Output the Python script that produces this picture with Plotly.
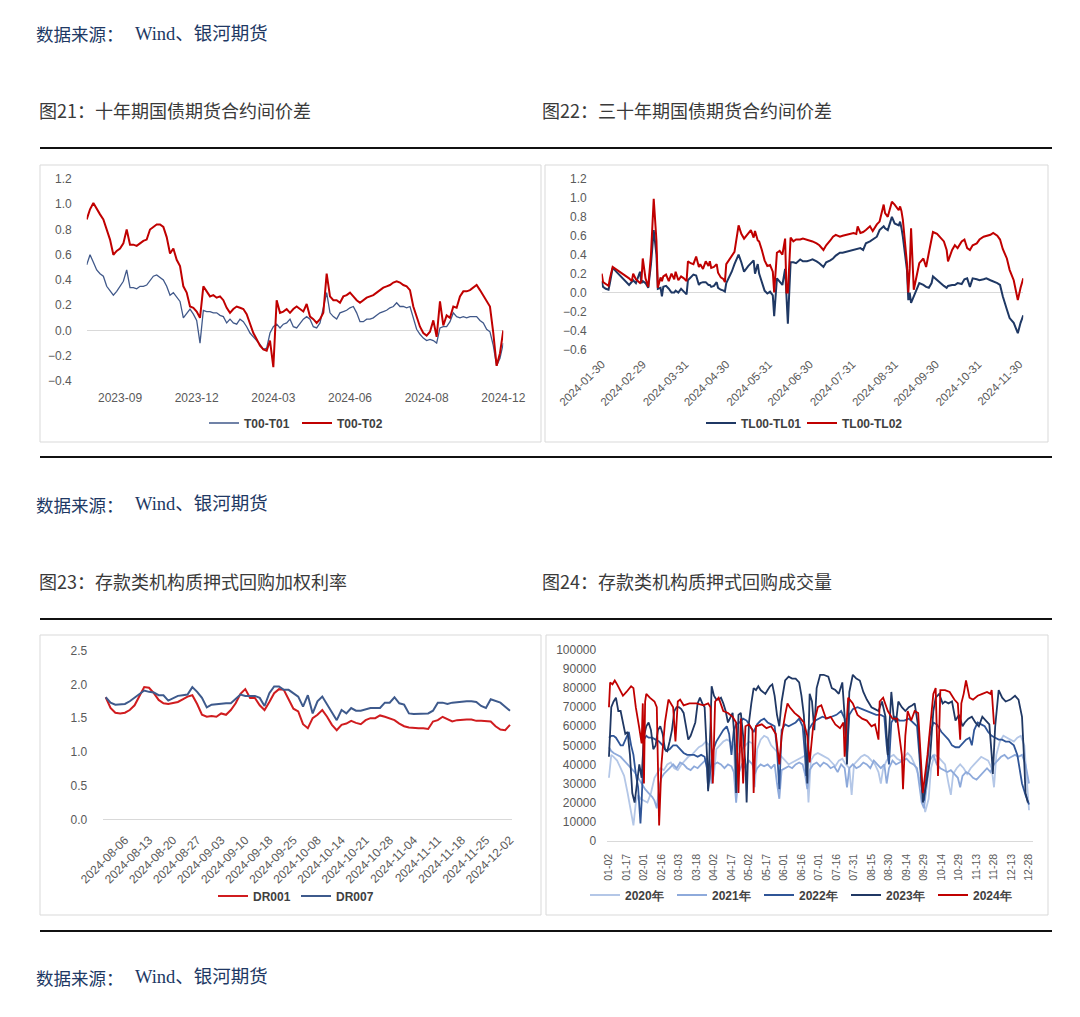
import plotly.graph_objects as go

W, H = 1080, 1017
def fx(p): return p / W
def fy(p): return 1 - p / H

RED = "#c00000"
RED3 = "#d01c1f"
BLUE1 = "#41598a"
NAVY = "#1f3864"
GRID = "#d9d9d9"
TICK = "#595959"
LEG = "#404040"
FONT = "Liberation Sans, Arial, sans-serif"
CJK = "Noto Sans CJK SC, sans-serif"

# ---------------- Panel 1: T00-T01 / T00-T02 ----------------
t01 = [0.52,0.60,0.54,0.48,0.45,0.43,0.35,0.31,0.28,0.31,
       0.35,0.39,0.48,0.34,0.34,0.33,0.35,0.35,0.36,0.40,
       0.43,0.44,0.42,0.40,0.35,0.28,0.30,0.26,0.23,0.10,
       0.14,0.17,0.13,0.08,-0.10,0.16,0.15,0.15,0.14,0.14,
       0.12,0.11,0.06,0.09,0.06,0.05,0.09,0.07,0.03,-0.02,
       -0.05,-0.08,-0.11,-0.15,-0.14,-0.02,0.03,0.05,0.02,0.05,
       0.06,0.09,0.03,0.02,0.06,0.09,0.11,0.09,0.03,0.02,
       0.06,0.17,0.30,0.14,0.11,0.09,0.14,0.15,0.16,0.18,
       0.19,0.14,0.07,0.07,0.09,0.09,0.10,0.12,0.14,0.15,
       0.16,0.18,0.19,0.22,0.19,0.19,0.18,0.19,0.09,0.01,
       -0.03,-0.06,-0.08,-0.07,-0.08,-0.10,0.02,0.03,0.03,0.07,
       0.14,0.11,0.10,0.11,0.10,0.11,0.11,0.11,0.08,0.06,
       0.01,-0.01,-0.12,-0.28,-0.22,-0.10]
t02 = [0.88,0.96,1.01,0.96,0.92,0.88,0.80,0.72,0.60,0.63,
       0.65,0.69,0.80,0.68,0.68,0.67,0.69,0.71,0.72,0.80,
       0.82,0.84,0.84,0.82,0.74,0.61,0.65,0.56,0.51,0.35,
       0.30,0.19,0.18,0.15,0.10,0.35,0.31,0.27,0.28,0.26,
       0.27,0.24,0.18,0.14,0.17,0.19,0.18,0.17,0.13,0.06,
       -0.02,-0.07,-0.12,-0.15,-0.16,-0.08,-0.29,0.24,0.14,0.15,
       0.17,0.14,0.17,0.19,0.17,0.15,0.21,0.11,0.09,0.06,
       0.09,0.14,0.45,0.27,0.24,0.24,0.22,0.27,0.28,0.30,
       0.27,0.24,0.22,0.24,0.26,0.27,0.28,0.30,0.32,0.34,
       0.35,0.36,0.38,0.39,0.38,0.36,0.35,0.32,0.19,0.11,
       0.03,-0.02,-0.04,-0.01,0.08,-0.05,0.23,0.04,0.12,0.10,
       0.19,0.18,0.27,0.31,0.31,0.32,0.34,0.36,0.32,0.28,
       0.24,0.19,-0.02,-0.28,-0.18,0.00]
p1_tick_pos = [10, 33, 56, 79, 102, 125]
p1_tick_txt = ["2023-09", "2023-12", "2024-03", "2024-06", "2024-08", "2024-12"]
p1_yticks = [-0.4, -0.2, 0.0, 0.2, 0.4, 0.6, 0.8, 1.0, 1.2]

# ---------------- Panel 2: TL00-TL01 / TL00-TL02 ----------------
tl_dates = ["01-30","01-31","02-02","02-04","02-05","02-07","02-19","02-21","02-22","02-24",
            "02-27","02-28","02-29","03-02","03-04","03-06","03-08","03-10","03-11","03-13",
            "03-14","03-15","03-17","03-19","03-21","03-23","03-24","03-26","03-28","03-30",
            "04-01","04-02","04-04","04-06","04-08","04-10","04-11","04-13","04-15","04-17",
            "04-18","04-19","04-21","04-23","04-24","04-26","04-28","04-29","04-30","05-04",
            "05-06","05-09","05-11","05-13","05-16","05-18","05-20","05-21","05-23","05-24",
            "05-26","05-28","05-30","06-01","06-03","06-04","06-06","06-08","06-10","06-12",
            "06-13","06-14","06-16","06-18","06-20","06-23","06-25","06-28","06-30","07-02",
            "07-05","07-07","07-10","07-12","07-15","07-17","07-19","07-22","07-24","07-27",
            "07-29","08-01","08-03","08-04","08-06","08-08","08-10","08-13","08-15","08-18",
            "08-20","08-23","08-24","08-26","08-29","08-31","09-03","09-04","09-05","09-06",
            "09-09","09-10","09-11","09-12","09-14","09-15","09-16","09-17","09-18","09-21",
            "09-23","09-25","09-27","09-28","10-01","10-03","10-06","10-08","10-09","10-12",
            "10-14","10-16","10-19","10-21","10-23","10-25","10-27","10-30","11-01","11-04",
            "11-06","11-09","11-11","11-14","11-16","11-18","11-21","11-23","11-26","11-27",
            "11-29","12-01","12-03"]
tl01 = [0.12,0.06,0.04,0.03,0.10,0.26,0.08,0.12,0.13,0.10,
        0.22,0.10,0.12,0.10,0.05,0.30,0.66,0.40,0.04,0.05,
        -0.04,0.06,0.07,0.04,0.00,0.00,0.02,0.00,0.04,0.01,
        -0.02,0.13,0.16,0.19,0.18,0.08,0.10,0.11,0.11,0.08,
        0.08,0.06,0.07,0.11,0.05,0.03,0.02,0.01,0.10,0.22,
        0.30,0.40,0.32,0.22,0.28,0.31,0.34,0.20,0.30,0.20,
        0.10,0.02,-0.01,0.01,-0.03,-0.25,0.15,0.12,0.08,0.25,
        0.02,-0.33,0.32,0.32,0.31,0.35,0.33,0.33,0.34,0.35,
        0.33,0.31,0.27,0.32,0.34,0.36,0.39,0.42,0.42,0.43,
        0.44,0.45,0.46,0.46,0.47,0.45,0.52,0.54,0.56,0.59,
        0.66,0.70,0.68,0.66,0.80,0.73,0.71,0.75,0.68,0.59,
        0.24,-0.08,0.00,-0.11,-0.04,0.00,0.03,0.06,0.10,0.08,
        0.06,0.05,0.10,0.17,0.13,0.10,0.07,0.05,0.07,0.08,
        0.08,0.10,0.09,0.14,0.15,0.06,0.15,0.14,0.13,0.14,
        0.15,0.13,0.12,0.10,0.08,-0.04,-0.18,-0.27,-0.32,-0.36,
        -0.43,-0.32,-0.24]
tl02 = [0.20,0.11,0.09,0.07,0.15,0.27,0.15,0.12,0.20,0.14,
        0.10,0.12,0.36,0.15,0.06,0.40,0.99,0.55,0.05,0.16,
        0.12,0.17,0.19,0.12,0.20,0.14,0.22,0.13,0.17,0.15,
        0.12,0.33,0.31,0.30,0.38,0.27,0.30,0.25,0.33,0.28,
        0.33,0.26,0.27,0.30,0.21,0.16,0.14,0.11,0.30,0.38,
        0.43,0.71,0.62,0.57,0.62,0.66,0.58,0.65,0.55,0.54,
        0.45,0.34,0.28,0.29,0.22,0.00,0.42,0.44,0.40,0.57,
        0.00,0.00,0.58,0.54,0.56,0.56,0.57,0.56,0.55,0.54,
        0.52,0.50,0.45,0.50,0.55,0.59,0.61,0.59,0.60,0.61,
        0.62,0.63,0.62,0.70,0.63,0.64,0.66,0.70,0.65,0.72,
        0.75,0.93,0.84,0.80,0.96,0.93,0.87,0.91,0.86,0.77,
        0.31,0.00,0.25,0.68,0.03,0.10,0.18,0.24,0.31,0.36,
        0.27,0.42,0.59,0.64,0.62,0.59,0.54,0.45,0.33,0.45,
        0.50,0.47,0.54,0.56,0.47,0.45,0.50,0.52,0.56,0.59,
        0.60,0.61,0.63,0.60,0.56,0.46,0.36,0.24,0.13,0.06,
        -0.08,0.05,0.15]
p2_ticks = ["2024-01-30","2024-02-29","2024-03-31","2024-04-30","2024-05-31","2024-06-30",
            "2024-07-31","2024-08-31","2024-09-30","2024-10-31","2024-11-30"]
p2_yticks = [-0.6, -0.4, -0.2, 0.0, 0.2, 0.4, 0.6, 0.8, 1.0, 1.2]

# ---------------- Panel 3: DR001 / DR007 ----------------
dr_days = ["07-31","08-01","08-02","08-05","08-06","08-07","08-08","08-09","08-12","08-13",
           "08-14","08-15","08-16","08-19","08-20","08-21","08-22","08-23","08-26","08-27",
           "08-28","08-29","08-30","09-02","09-03","09-04","09-05","09-06","09-09","09-10",
           "09-11","09-12","09-13","09-14","09-18","09-19","09-20","09-23","09-24","09-25",
           "09-26","09-27","09-29","09-30","10-08","10-09","10-10","10-11","10-12","10-14",
           "10-15","10-16","10-17","10-18","10-21","10-22","10-23","10-24","10-25","10-28",
           "10-29","10-30","10-31","11-01","11-04","11-05","11-06","11-07","11-08","11-11",
           "11-12","11-13","11-14","11-15","11-18","11-19","11-20","11-21","11-22","11-25",
           "11-26","11-27","11-28","11-29","12-02"]
dr001 = [1.81,1.65,1.58,1.57,1.58,1.62,1.69,1.82,1.96,1.95,
         1.87,1.77,1.72,1.71,1.72,1.74,1.78,1.82,1.84,1.71,
         1.55,1.52,1.53,1.52,1.57,1.55,1.62,1.72,1.86,1.93,
         1.80,1.80,1.69,1.62,1.74,1.87,1.93,1.92,1.78,1.64,
         1.60,1.41,1.35,1.50,1.55,1.62,1.52,1.40,1.32,1.40,
         1.42,1.46,1.43,1.41,1.47,1.50,1.50,1.54,1.52,1.50,
         1.47,1.42,1.38,1.36,1.35,1.35,1.35,1.34,1.45,1.47,
         1.52,1.49,1.45,1.47,1.48,1.48,1.48,1.46,1.46,1.46,
         1.45,1.38,1.33,1.32,1.40]
dr007 = [1.81,1.73,1.70,1.70,1.71,1.75,1.80,1.86,1.91,1.89,
         1.88,1.84,1.84,1.76,1.79,1.83,1.84,1.85,1.96,1.89,
         1.80,1.66,1.70,1.71,1.72,1.72,1.72,1.79,1.85,1.83,
         1.83,1.83,1.80,1.68,1.87,1.97,1.97,1.92,1.92,1.87,
         1.82,1.67,1.84,1.57,1.75,1.82,1.71,1.58,1.47,1.62,
         1.57,1.65,1.61,1.61,1.63,1.65,1.65,1.65,1.73,1.73,
         1.81,1.72,1.70,1.57,1.56,1.56,1.56,1.57,1.61,1.73,
         1.73,1.71,1.73,1.74,1.74,1.75,1.75,1.74,1.68,1.65,
         1.78,1.76,1.73,1.67,1.61]
p3_ticks = ["08-06","08-13","08-20","08-27","09-03","09-10","09-18","09-25","10-08",
            "10-14","10-21","10-28","11-04","11-11","11-18","11-25","12-02"]
p3_yticks = [0.0, 0.5, 1.0, 1.5, 2.0, 2.5]

# ---------------- Panel 4: volume by year (day-of-year, thousand) ----------------
v2020 = [(1,33),(3,45),(5,44),(8,42),(11,38),(14,34),(17,25),(20,15),(22,8),(24,20),(26,24),(28,22),
         (31,21),(34,20),(37,25),(40,33),(42,35),(45,38),(48,37),(51,40),(54,41),(57,38),(60,37),
         (63,40),(66,42),(69,44),(72,45),(75,47),(78,49),(81,50),(84,52),(87,50),(89,30),(91,35),
         (93,48),(96,50),(99,52),(102,53),(105,52),(108,50),(110,22),(112,45),(115,48),(118,50),
         (121,52),(124,51),(126,28),(128,48),(131,53),(134,55),(137,54),(140,50),(143,48),(146,46),
         (149,44),(152,42),(155,40),(158,41),(161,42),(164,43),(167,44),(170,45),(172,20),(174,42),
         (177,45),(180,46),(183,45),(186,44),(189,43),(192,41),(195,39),(198,42),(201,43),(204,40),
         (207,38),(209,24),(211,40),(214,42),(217,44),(220,45),(223,44),(226,42),(229,40),(232,36),
         (234,30),(236,38),(239,42),(242,44),(245,45),(248,43),(251,42),(254,44),(257,46),(260,44),
         (263,40),(266,35),(269,28),(272,15),(275,22),(277,38),(280,45),(283,44),(286,42),(289,40),
         (292,30),(294,24),(296,35),(299,38),(302,40),(305,38),(308,35),(311,38),(314,40),(317,42),
         (320,44),(323,43),(326,42),(329,38),(331,28),(333,45),(336,52),(339,55),(342,54),(345,53),
         (348,52),(351,54),(354,55),(357,50),(359,35),(361,16)]
v2021 = [(1,49),(3,47),(5,46),(8,45),(11,44),(14,42),(17,40),(20,38),(23,36),(26,33),(29,30),
         (32,27),(35,25),(38,23),(40,21),(42,17),(44,28),(46,33),(48,35),(50,36),(53,38),(56,40),
         (59,38),(62,41),(65,40),(68,38),(71,37),(74,39),(77,38),(80,40),(83,42),(85,43),(87,38),
         (89,30),(91,40),(94,41),(97,40),(100,38),(103,40),(106,39),(108,36),(110,20),(112,35),
         (115,40),(118,38),(121,42),(124,40),(126,35),(128,38),(131,40),(134,39),(137,40),(140,38),
         (143,40),(145,30),(147,22),(149,37),(152,38),(155,39),(158,38),(161,40),(164,41),(167,40),
         (169,35),(171,27),(173,37),(176,40),(179,41),(182,39),(185,41),(188,40),(191,38),(194,39),
         (197,36),(200,40),(203,38),(205,28),(207,38),(210,40),(213,38),(216,39),(219,41),(222,40),
         (225,38),(228,42),(231,40),(234,38),(237,40),(239,30),(241,38),(244,42),(247,40),(250,41),
         (253,42),(256,43),(259,41),(262,40),(265,38),(267,30),(269,20),(271,17),(273,28),(276,42),
         (279,45),(282,40),(285,38),(288,37),(291,36),(294,37),(297,35),(300,33),(302,28),(304,34),
         (307,36),(310,35),(313,33),(316,32),(319,34),(322,36),(325,38),(328,36),(331,40),(334,42),
         (337,44),(340,45),(343,43),(346,44),(349,45),(352,44),(355,45),(358,40),(361,30)]
v2022 = [(1,54),(3,55),(5,55),(7,54),(9,52),(11,50),(13,50),(15,53),(17,56),(18,57),(20,50),
         (22,45),(24,35),(26,28),(28,9),(29,20),(31,53),(33,55),(35,54),(38,54),(41,53),(44,52),
         (47,50),(50,47),(53,48),(56,50),(59,50),(62,48),(65,46),(68,45),(71,45),(74,45),(77,44),
         (80,45),(83,44),(85,38),(86,27),(88,38),(90,47),(93,52),(96,55),(99,58),(102,60),(104,56),
         (106,45),(108,58),(110,61),(113,62),(116,64),(119,63),(122,60),(125,57),(128,61),(131,63),
         (134,64),(137,62),(140,61),(143,60),(145,48),(147,27),(149,58),(152,61),(155,60),(158,61),
         (161,62),(164,64),(167,60),(169,45),(170,34),(172,58),(175,61),(178,63),(181,64),(184,65),
         (188,64),(192,65),(196,66),(200,68),(203,64),(205,45),(207,66),(210,69),(214,70),(218,69),
         (222,68),(226,67),(230,66),(234,66),(237,65),(239,50),(241,40),(243,62),(246,65),(250,63),
         (254,63),(258,64),(262,62),(265,60),(267,45),(269,28),(271,21),(273,35),(276,55),(279,62),
         (282,61),(286,57),(289,55),(292,53),(295,50),(298,49),(301,49),(304,51),(307,53),(310,54),
         (312,50),(314,58),(317,62),(320,61),(323,60),(326,57),(329,55),(332,54),(335,53),(338,53),
         (341,52),(344,52),(348,50),(351,45),(353,38),(355,30),(358,24),(361,19)]
v2023 = [(1,44),(3,70),(5,73),(7,75),(9,68),(11,68),(13,62),(15,56),(17,57),(19,45),(21,25),
         (23,20),(25,30),(27,40),(29,33),(31,55),(33,60),(35,62),(37,58),(39,48),(41,50),(43,58),
         (45,60),(47,56),(49,48),(51,47),(53,52),(55,58),(57,68),(59,70),(61,70),(63,69),(65,67),
         (67,60),(69,53),(71,55),(73,58),(75,62),(77,72),(79,75),(81,72),(83,70),(85,45),(86,26),
         (88,60),(89,81),(91,76),(93,74),(95,74),(97,75),(99,72),(101,68),(103,62),(105,65),
         (107,67),(109,50),(110,25),(112,66),(114,67),(116,55),(118,40),(119,20),(121,62),(123,72),
         (125,80),(127,79),(129,81),(131,79),(133,78),(135,77),(137,79),(139,81),(141,82),(143,76),
         (145,66),(147,60),(149,73),(152,84),(155,86),(158,85),(161,85),(164,83),(166,76),(168,66),
         (170,45),(171,30),(173,77),(175,73),(177,58),(179,80),(182,87),(185,87),(189,86),(192,80),
         (195,79),(198,77),(201,83),(203,65),(205,40),(207,78),(210,87),(213,85),(216,84),(219,78),
         (222,74),(226,70),(229,69),(232,68),(235,73),(238,65),(240,45),(243,78),(245,65),(247,62),
         (249,73),(252,70),(255,68),(258,70),(261,71),(263,72),(266,60),(268,40),(270,20),(273,30),
         (276,42),(279,68),(281,75),(284,77),(287,72),(289,73),(292,72),(295,73),(298,63),(301,66),
         (304,60),(306,62),(309,64),(312,65),(315,62),(318,60),(321,65),(324,63),(327,61),(329,45),
         (330,35),(332,60),(335,79),(338,75),(341,73),(345,74),(349,76),(352,74),(355,65),(357,40),
         (358,25),(360,20)]
v2024 = [(1,70),(2,83),(4,82),(6,84),(8,82),(13,76),(16,78),(20,81),(22,80),(24,70),(27,59),
         (29,51),(30,72),(31,30),(32,73),(33,77),(36,75),(40,73),(42,70),(44,8),(46,40),(49,62),
         (52,74),(56,70),(58,52),(60,73),(62,74),(65,71),(70,72),(76,72),(82,71),(86,72),(88,70),
         (90,30),(92,73),(95,75),(99,68),(103,67),(107,65),(110,62),(112,25),(114,64),(116,30),
         (118,60),(121,61),(124,58),(125,25),(127,60),(132,61),(136,59),(140,60),(144,56),(147,40),
         (149,55),(152,66),(154,72),(156,70),(160,67),(164,65),(168,62),(171,55),(173,41),(176,60),
         (180,70),(183,71),(187,64),(191,65),(195,61),(199,59),(202,62),(203,44),(206,75),(210,72),
         (214,66),(218,64),(222,63),(226,60),(229,61),(232,53),(233,73),(236,75),(240,68),(244,64),
         (248,64),(252,45),(253,27),(255,55),(257,68),(260,63),(263,68),(266,67),(268,45),(270,25),
         (274,45),(279,77),(281,80),(283,34),(285,79),(289,79),(293,78),(297,74),(300,72),(302,53),
         (303,72),(305,77),(307,84),(310,75),(313,74),(317,76),(321,77),(325,78),(328,77),(329,79),
         (331,61)]
p4_series = [("2020年", v2020, "#b4c7e7"), ("2021年", v2021, "#8eaadb"),
             ("2022年", v2022, "#2f5597"), ("2023年", v2023, "#203864"),
             ("2024年", v2024, "#c00000")]
p4_tick_txt = ["01-02","01-17","02-01","02-16","03-03","03-18","04-02","04-17","05-02",
               "05-17","06-01","06-16","07-01","07-16","07-31","08-15","08-30","09-14",
               "09-29","10-14","10-29","11-13","11-28","12-13","12-28"]
p4_tick_day = [1 + 15 * i for i in range(len(p4_tick_txt))]
p4_yticks = [0, 10000, 20000, 30000, 40000, 50000, 60000, 70000, 80000, 90000, 100000]

fig = go.Figure()

# Panel 1 traces
x1 = list(range(len(t01)))
fig.add_trace(go.Scatter(x=x1, y=t01, name="T00-T01", mode="lines",
                         line=dict(color=BLUE1, width=1.3), xaxis="x", yaxis="y", legend="legend"))
fig.add_trace(go.Scatter(x=x1, y=t02, name="T00-T02", mode="lines",
                         line=dict(color=RED, width=2), xaxis="x", yaxis="y", legend="legend"))
# Panel 2 traces
d2 = ["2024-" + d for d in tl_dates]
fig.add_trace(go.Scatter(x=d2, y=tl01, name="TL00-TL01", mode="lines",
                         line=dict(color=NAVY, width=2), xaxis="x2", yaxis="y2", legend="legend2"))
fig.add_trace(go.Scatter(x=d2, y=tl02, name="TL00-TL02", mode="lines",
                         line=dict(color=RED, width=2), xaxis="x2", yaxis="y2", legend="legend2"))
# Panel 3 traces
d3 = ["2024-" + d for d in dr_days]
fig.add_trace(go.Scatter(x=d3, y=dr001, name="DR001", mode="lines",
                         line=dict(color=RED3, width=2), xaxis="x3", yaxis="y3", legend="legend3"))
fig.add_trace(go.Scatter(x=d3, y=dr007, name="DR007", mode="lines",
                         line=dict(color="#3e5a8c", width=2), xaxis="x3", yaxis="y3", legend="legend3"))
# Panel 4 traces
for name, pts, col in p4_series:
    fig.add_trace(go.Scatter(x=[p[0] for p in pts], y=[p[1] * 1000 for p in pts], name=name,
                             mode="lines", line=dict(color=col, width=1.8),
                             xaxis="x4", yaxis="y4", legend="legend4"))

def tf(size):
    return dict(family=FONT, size=size, color=TICK)

common = dict(showgrid=False, ticks="", zeroline=False, showline=False)

fig.update_layout(
    width=W, height=H, margin=dict(l=0, r=0, t=0, b=0, autoexpand=False),
    paper_bgcolor="white", plot_bgcolor="white", hovermode=False,
    xaxis=dict(domain=[fx(86.7), fx(503.3)], anchor="y", range=[0, len(t01) - 1],
               tickmode="array", tickvals=p1_tick_pos, ticktext=p1_tick_txt,
               tickfont=tf(12), ticklabelstandoff=8, **common),
    yaxis=dict(domain=[fy(381), fy(179)], anchor="x", range=[-0.4, 1.2],
               tickmode="array", tickvals=p1_yticks, tickformat=".1f",
               tickfont=tf(12), ticklabelstandoff=14, showgrid=False, ticks="",
               zeroline=True, zerolinecolor=GRID, zerolinewidth=1),
    xaxis2=dict(domain=[fx(601.7), fx(1023.3)], anchor="y2", type="date",
                range=["2024-01-30", "2024-12-03"], tickmode="array", tickvals=p2_ticks,
                tickformat="%Y-%m-%d", tickangle=-45, tickfont=tf(11.5), ticklabelstandoff=5,
                **common),
    yaxis2=dict(domain=[fy(349.3), fy(179)], anchor="x2", range=[-0.6, 1.2],
                tickmode="array", tickvals=p2_yticks, tickformat=".1f",
                tickfont=tf(12), ticklabelstandoff=14, showgrid=False, ticks="",
                zeroline=True, zerolinecolor=GRID, zerolinewidth=1),
    xaxis3=dict(domain=[fx(103.3), fx(512.4)], anchor="y3", type="category",
                categoryorder="array", categoryarray=d3, range=[-0.5, len(d3) - 0.5],
                tickmode="array", tickvals=["2024-" + d for d in p3_ticks],
                ticktext=["2024-" + d for d in p3_ticks], tickangle=-45, tickfont=tf(12),
                ticklabelstandoff=8, showgrid=False, ticks="", zeroline=False,
                showline=True, linecolor=GRID, linewidth=1),
    yaxis3=dict(domain=[fy(819.3), fy(650.7)], anchor="x3", range=[0, 2.5],
                tickmode="array", tickvals=p3_yticks, tickformat=".1f",
                tickfont=tf(12), ticklabelstandoff=15, **common),
    xaxis4=dict(domain=[fx(607.2), fx(1033.1)], anchor="y4", range=[-0.5, 364.5],
                tickmode="array", tickvals=p4_tick_day, ticktext=p4_tick_txt, tickangle=-90,
                tickfont=tf(10.5), ticklabelstandoff=8, showgrid=False, ticks="",
                zeroline=False, showline=True, linecolor=GRID, linewidth=1),
    yaxis4=dict(domain=[fy(840.7), fy(650)], anchor="x4", range=[0, 100000],
                tickmode="array", tickvals=p4_yticks, tickformat="d",
                tickfont=tf(12), ticklabelstandoff=10, **common),
)

legfont = dict(family=FONT, size=12, color=LEG, weight="bold")
def leg(x, y, ew):
    return dict(orientation="h", x=fx(x), y=fy(y), xanchor="left", yanchor="middle",
                font=legfont, bgcolor="rgba(0,0,0,0)", entrywidth=ew,
                entrywidthmode="pixels", itemwidth=30, tracegroupgap=0)

fig.update_layout(legend=leg(204, 423, 48), legend2=leg(701, 423, 56),
                  legend3=leg(213, 896, 38), legend4=leg(585, 895, 42))

shapes = []
for y in (148, 457, 619, 931):
    shapes.append(dict(type="line", xref="paper", yref="paper", x0=fx(40), x1=fx(1052),
                       y0=fy(y), y1=fy(y), line=dict(color="#111111", width=2)))
for (x0, y0, x1, y1) in ((40, 165, 541, 442), (545, 165, 1048, 442),
                         (40, 635, 541, 915), (546, 635, 1048, 915)):
    shapes.append(dict(type="rect", xref="paper", yref="paper", x0=fx(x0), x1=fx(x1),
                       y0=fy(y1), y1=fy(y0), line=dict(color=GRID, width=1)))
fig.update_layout(shapes=shapes)

anns = []
def text(x, y, s, color, size=17.5, family=CJK):
    anns.append(dict(x=fx(x), y=fy(y), xref="paper", yref="paper", text=s, showarrow=False,
                     xanchor="left", yanchor="middle", font=dict(family=family, size=size, color=color)))

SRC = "#203864"
for y in (34, 504, 977):
    text(34, y, "数据来源：", SRC)
    text(133, y, "Wind、银河期货", SRC, size=18.5, family="Liberation Serif, Noto Sans CJK SC, serif")
HEAD = "#3a3a3a"
text(37, 110, "图21：十年期国债期货合约间价差", HEAD, size=18)
text(540, 110, "图22：三十年期国债期货合约间价差", HEAD, size=18)
text(37, 581, "图23：存款类机构质押式回购加权利率", HEAD, size=18)
text(540, 581, "图24：存款类机构质押式回购成交量", HEAD, size=18)
fig.update_layout(annotations=anns)

fig.write_html("out.html", config={"displayModeBar": False},
               post_script="document.body.style.margin='0px';document.body.style.padding='0px';")
